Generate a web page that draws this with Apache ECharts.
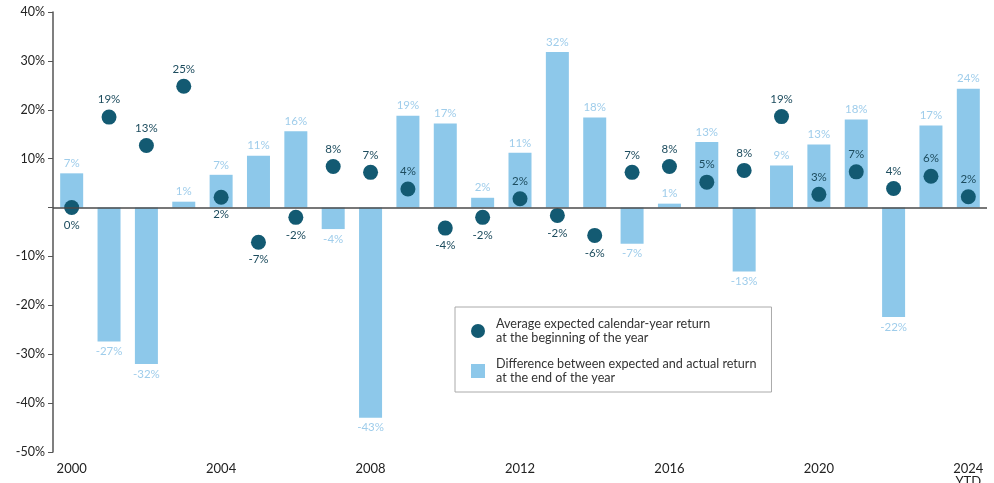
<!DOCTYPE html>
<html><head><meta charset="utf-8">
<script src="https://cdn.jsdelivr.net/npm/echarts@6/dist/echarts.min.js"></script>
<style>html,body{margin:0;padding:0;background:#fff}#c{width:994px;height:483px}</style>
</head><body><div id="c"></div>
<script>
var years = ['2000','2001','2002','2003','2004','2005','2006','2007','2008','2009','2010','2011','2012','2013','2014','2015','2016','2017','2018','2019','2020','2021','2022','2023','2024\nYTD'];
var expected = [0, 18.5, 12.7, 24.8, 2.1, -7.1, -2.0, 8.4, 7.2, 3.8, -4.2, -2.0, 1.8, -1.6, -5.7, 7.2, 8.4, 5.2, 7.6, 18.6, 2.7, 7.3, 3.9, 6.4, 2.2];
var difference = [7.0, -27.4, -32.0, 1.2, 6.7, 10.6, 15.6, -4.4, -43.0, 18.8, 17.2, 2.0, 11.2, 31.8, 18.4, -7.4, 0.8, 13.4, -13.1, 8.6, 12.9, 18.0, -22.4, 16.8, 24.3];
var yTicks = [-50, -40, -30, -20, -10, 0, 10, 20, 30, 40];
var seriesNames = ['Average expected calendar-year return\nat the beginning of the year', 'Difference between expected and actual return\nat the end of the year'];
// label placement for the dots (style only)
var dotLabelPos = ['bottom','top','top','top','bottom','bottom','bottom','top','top','top','bottom','bottom','top','bottom','bottom','top','top','top','top','top','top','top','top','top','top'];

var FONT = 'Lato, "Open Sans", sans-serif';
var chart = echarts.init(document.getElementById('c'));
var fmt = function (v) { return Math.round(v) + '%'; };
chart.setOption({
  animation: false,
  textStyle: { fontFamily: FONT },
  grid: { left: 53, right: 7, top: 12, bottom: 31, containLabel: false, outerBoundsMode: 'none' },
  legend: {
    orient: 'vertical', left: 455, top: 307,
    padding: [10, 15, 7, 16],
    borderColor: '#aaa', borderWidth: 1,
    itemWidth: 14, itemHeight: 14, itemGap: 12,
    data: [{ name: seriesNames[0], icon: 'circle' }, { name: seriesNames[1], icon: 'rect' }],
    textStyle: { fontFamily: FONT, fontSize: 12.6, color: '#333', lineHeight: 14, padding: [0, 0, 0, 6] }
  },
  xAxis: {
    type: 'category', data: years,
    axisLine: { show: false, onZero: false },
    axisTick: { show: false },
    axisLabel: { interval: 3, color: '#222', fontSize: 13, margin: 10, lineHeight: 13, fontFamily: FONT }
  },
  yAxis: {
    type: 'value', min: yTicks[0], max: yTicks[yTicks.length - 1], interval: 10,
    splitLine: { show: false },
    axisLine: { show: true, lineStyle: { color: '#555', width: 1.5 } },
    axisTick: { show: true, length: 5, lineStyle: { color: '#555' } },
    axisLabel: { color: '#222', fontSize: 12.5, margin: 8, fontFamily: FONT,
      formatter: function (v) { return v === 0 ? '' : v + '%'; } }
  },
  series: [
    {
      name: seriesNames[1], type: 'bar', barWidth: 23,
      data: difference.map(function (v) {
        return { value: v, label: { position: v < 0 ? 'bottom' : 'top' } };
      }),
      itemStyle: { color: '#8dc8ea' },
      label: { show: true, distance: 4, color: '#9fcdeb', fontSize: 11.5, fontFamily: FONT,
        formatter: function (p) { return fmt(p.value); } },
      markLine: { silent: true, symbol: 'none', label: { show: false },
        lineStyle: { color: '#4a4a4a', width: 1.5, type: 'solid' }, data: [{ yAxis: 0 }] },
      z: 2
    },
    {
      name: seriesNames[0], type: 'scatter', symbolSize: 15,
      data: expected.map(function (v, i) {
        return { value: v, label: { position: dotLabelPos[i] } };
      }),
      itemStyle: { color: '#135a72', opacity: 1 },
      label: { show: true, distance: 4, color: '#1d4c5e', fontSize: 11.5, fontFamily: FONT,
        formatter: function (p) { return fmt(p.value); } },
      z: 3
    }
  ]
});
</script>
</body></html>
